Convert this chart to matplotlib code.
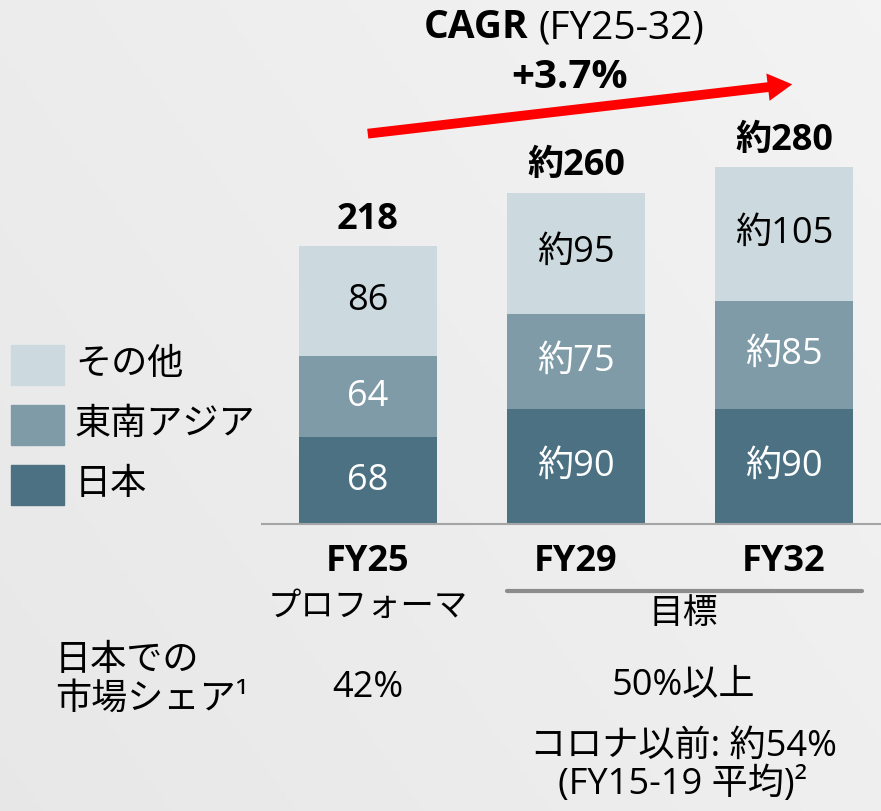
import numpy as np
import matplotlib
matplotlib.use("Agg")
import matplotlib.pyplot as plt
import matplotlib.patches as mpatches

plt.rcParams['font.family'] = ['Open Sans', 'Noto Sans CJK JP', 'DejaVu Sans']

# data
years = ["FY25", "FY29", "FY32"]
sub_labels = ["プロフォーマ", "目標"]
japan = [68, 90, 90]
sea = [64, 75, 85]
other = [86, 95, 105]
totals = [218, 260, 280]
japan_lbl = ["68", "約90", "約90"]
sea_lbl = ["64", "約75", "約85"]
other_lbl = ["86", "約95", "約105"]
total_lbl = ["218", "約260", "約280"]
series_names = ["その他", "東南アジア", "日本"]
share_now = "42%"
share_target = "50%以上"
share_pre = "コロナ以前: 約54%"
share_pre_note = "(FY15-19 平均)²"
cagr = "+3.7%"

c_japan = "#4b7183"
c_sea = "#7f9ba7"
c_other = "#ccd9de"

W, H = 881, 811
fig = plt.figure(figsize=(W / 100, H / 100), dpi=100)


def fx(px):
    return px / W


def fy(py):
    return 1 - py / H


# background gradient
bg = fig.add_axes([0, 0, 1, 1])
gx, gy = np.meshgrid(np.linspace(0, 1, 200), np.linspace(0, 1, 200))
grad = 0.905 + 0.045 * (0.6 * gx + 0.4 * (1 - gy))
bg.imshow(grad, cmap="gray", vmin=0, vmax=1, aspect="auto", extent=[0, 1, 0, 1])
bg.axis("off")

# main axes, mapped so that bar centers fall where the reference has them
ax = fig.add_axes([0, 0, 1, 1])
ax.patch.set_alpha(0)
x = np.arange(len(years))
ax.set_xlim(-368 / 208, (881 - 368) / 208)
ax.set_ylim(-(811 - 524) / 1.275, 524 / 1.275)
ax.axis("off")

w = 0.668
b1 = np.array(japan)
b2 = b1 + np.array(sea)
ax.bar(x, japan, w, color=c_japan)
ax.bar(x, sea, w, bottom=b1, color=c_sea)
ax.bar(x, other, w, bottom=b2, color=c_other)

fs = 26
for i in range(len(years)):
    ax.text(x[i], japan[i] / 2, japan_lbl[i], ha="center", va="center",
            color="white", fontsize=fs)
    ax.text(x[i], b1[i] + sea[i] / 2, sea_lbl[i], ha="center", va="center",
            color="white", fontsize=fs)
    ax.text(x[i], b2[i] + other[i] / 2, other_lbl[i], ha="center", va="center",
            color="black", fontsize=fs)
    ax.annotate(total_lbl[i], (x[i], totals[i]), xytext=(0, 19),
                textcoords="offset points", ha="center", va="center",
                fontsize=fs, fontweight="bold")

# baseline
ax.plot([fx(262), 1], [fy(524), fy(524)], transform=fig.transFigure,
        color="#a5a5a5", lw=1.5, clip_on=False)

# legend
cols = [c_other, c_sea, c_japan]
for k, (name, col) in enumerate(zip(series_names, cols)):
    top = 345 + k * 60
    fig.patches.append(mpatches.Rectangle((fx(11), fy(top + 40)), fx(53), 40 / H,
                                          transform=fig.transFigure, color=col))
    fig.text(fx(75), fy(top + 20), name, ha="left", va="center", fontsize=fs)

# x labels
for i in range(len(years)):
    ax.text(x[i], -(562 - 524) / 1.275, years[i], ha="center", va="center",
            fontsize=fs, fontweight="bold")
fig.text(fx(368), fy(607), sub_labels[0], ha="center", va="center", fontsize=fs - 2)
ax.plot([fx(507), fx(862)], [fy(591), fy(591)], transform=fig.transFigure,
        color="#8c8c8c", lw=3, solid_capstyle="round", clip_on=False)
fig.text(fx(683), fy(614), sub_labels[1], ha="center", va="center", fontsize=fs - 1)

# market share block
fig.text(fx(55), fy(661), "日本での", ha="left", va="center", fontsize=fs)
fig.text(fx(55), fy(700), "市場シェア¹", ha="left", va="center", fontsize=fs)
fig.text(fx(368), fy(688), share_now, ha="center", va="center", fontsize=fs)
fig.text(fx(683), fy(686), share_target, ha="center", va="center", fontsize=fs)
fig.text(fx(683), fy(747), share_pre, ha="center", va="center", fontsize=fs)
fig.text(fx(683), fy(785), share_pre_note, ha="center", va="center", fontsize=fs)

# CAGR header and arrow
fig.text(fx(528), fy(28), "CAGR", ha="right", va="center", fontsize=fs + 2,
         fontweight="bold")
fig.text(fx(538), fy(28), "(FY25-32)", ha="left", va="center", fontsize=fs + 2)
fig.text(fx(570), fy(78), cagr, ha="center", va="center", fontsize=fs + 3,
         fontweight="bold")
arrow = mpatches.FancyArrowPatch((fx(365), fy(134)), (fx(795), fy(84)),
                                 transform=fig.transFigure,
                                 arrowstyle="simple,head_width=0.9,head_length=0.8,tail_width=0.32",
                                 mutation_scale=22, color="#ff0000", lw=0)
fig.patches.append(arrow)

fig.savefig("out.png", dpi=100)
